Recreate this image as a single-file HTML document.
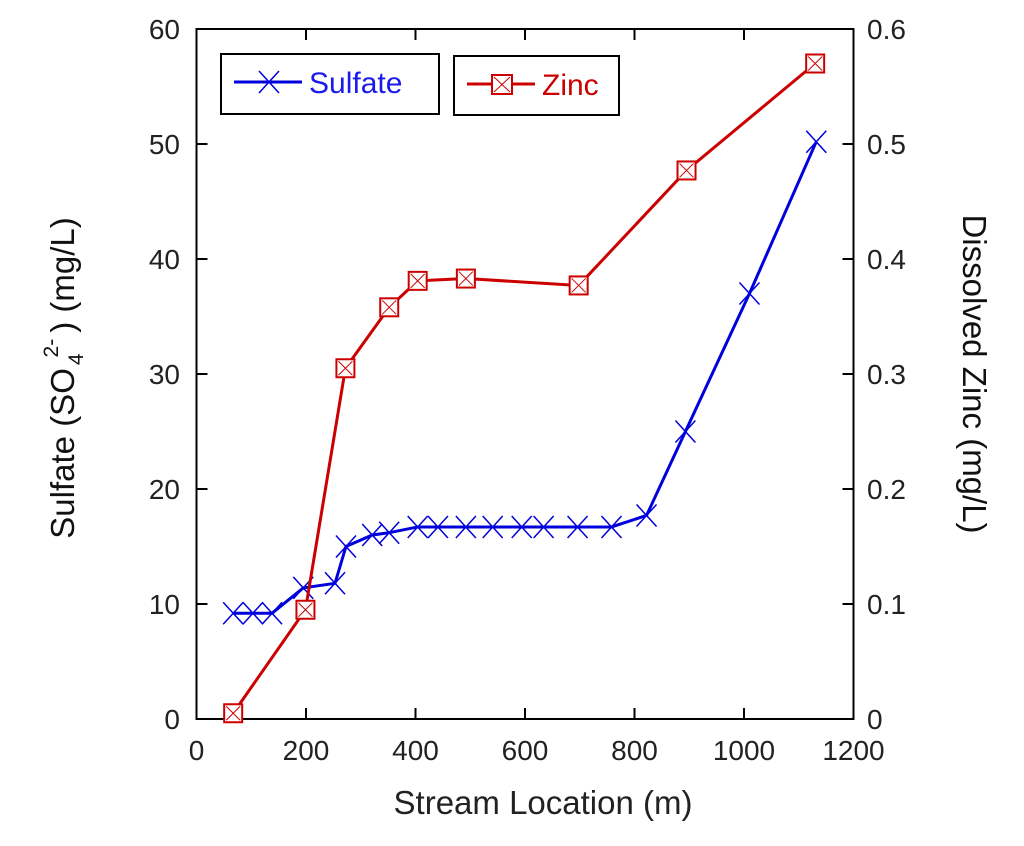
<!DOCTYPE html>
<html><head><meta charset="utf-8"><style>
body{margin:0;background:#fff;}
svg text{font-family:"Liberation Sans",Arial,sans-serif;}
</style></head><body>
<svg id="chart" width="1024" height="841" xmlns="http://www.w3.org/2000/svg">
<g id="axes"></g><g id="series"></g>
<g>
 <rect x="221" y="54" width="218" height="60" fill="#fff" stroke="#000" stroke-width="2"/>
 <line x1="234" y1="82" x2="302" y2="82" stroke="#0000dd" stroke-width="3"/>
 <path d="M259,71 L279,93 M259,93 L279,71" stroke="#0000dd" stroke-width="1.5"/>
 <text x="309" y="93" font-size="30" fill="#1a1aee">Sulfate</text>
 <rect x="454" y="56" width="165" height="59" fill="#fff" stroke="#000" stroke-width="2"/>
 <line x1="467" y1="84" x2="535" y2="84" stroke="#cc0000" stroke-width="3"/>
 <rect x="492" y="75" width="20" height="19" fill="#fff" stroke="#cc0000" stroke-width="2"/>
 <path d="M494,77 L510,92 M494,92 L510,77" stroke="#cc0000" stroke-width="1"/>
 <text x="542" y="95" font-size="30" fill="#cc0000">Zinc</text>
</g>
</svg>
<script>
const sulfateX=[67,103,138,195,253,273,321,352,404,441,492,541,594,634,696,758,822,893,1010,1132];
const sulfateY=[9.2,9.2,9.2,11.4,11.8,15.0,16.0,16.2,16.7,16.7,16.7,16.7,16.7,16.7,16.7,16.7,17.7,25.0,37.0,50.2];
const zincX=[67,199,272,352,404,492,698,895,1130];
const zincY=[0.005,0.095,0.305,0.358,0.381,0.383,0.377,0.477,0.57];
const xTicks=[0,200,400,600,800,1000,1200];
const yLeftTicks=[0,10,20,30,40,50,60];
const yRightTicks=["0","0.1","0.2","0.3","0.4","0.5","0.6"];
const L=196.5,R=853.5,T=29,B=719;
const xs=v=>L+(v/1200)*(R-L);
const yl=v=>B-(v/60)*(B-T);
const yr=v=>B-(v/0.6)*(B-T);
const NS="http://www.w3.org/2000/svg";
function mk(tag,attrs,parent){const e=document.createElementNS(NS,tag);for(const k in attrs)e.setAttribute(k,attrs[k]);parent.appendChild(e);return e;}
const ax=document.getElementById('axes'),se=document.getElementById('series');
let fr=mk('rect',{x:L,y:T,width:R-L,height:B-T,fill:'none',stroke:'#000','stroke-width':2},ax);


xTicks.forEach(v=>{const x=xs(v);
 mk('line',{x1:x,y1:B,x2:x,y2:B-11,stroke:'#000','stroke-width':2},ax);
 mk('line',{x1:x,y1:T,x2:x,y2:T+11,stroke:'#000','stroke-width':2},ax);
 const t=mk('text',{x:x,y:760,'font-size':28,'text-anchor':'middle',fill:'#222'},ax);t.textContent=v;
 
 });
yLeftTicks.forEach((v,i)=>{const y=yl(v);
 mk('line',{x1:L,y1:y,x2:L+11,y2:y,stroke:'#000','stroke-width':2},ax);
 mk('line',{x1:R,y1:y,x2:R-11,y2:y,stroke:'#000','stroke-width':2},ax);
 const t=mk('text',{x:180,y:y+10,'font-size':28,'text-anchor':'end',fill:'#222'},ax);t.textContent=v;
 
 
 const t2=mk('text',{x:867,y:y+10,'font-size':28,fill:'#222'},ax);t2.textContent=yRightTicks[i];
 
 });
let xt=mk('text',{x:543,y:814,'font-size':33,'text-anchor':'middle',fill:'#222'},ax);xt.textContent='Stream Location (m)';


let lt=mk('text',{transform:'translate(74,378) rotate(-90)','font-size':33,'text-anchor':'middle',fill:'#111'},ax);
lt.innerHTML='Sulfate (SO<tspan font-size="21" dy="9" dx="3">4</tspan><tspan font-size="21" dy="-25" dx="-4">2-</tspan><tspan dy="16" dx="6">) (mg/L)</tspan>';


let rt=mk('text',{transform:'translate(963,374) rotate(90)','font-size':33,'text-anchor':'middle',fill:'#111'},ax);rt.textContent='Dissolved Zinc (mg/L)';


let sl=mk('polyline',{points:sulfateX.map((x,i)=>xs(x)+','+yl(sulfateY[i])).join(' '),fill:'none',stroke:'#0000dd','stroke-width':3},se);


sulfateX.forEach((x,i)=>{const cx=xs(x),cy=yl(sulfateY[i]);
 const m=mk('path',{d:`M${cx-10},${cy-11} L${cx+10},${cy+11} M${cx-10},${cy+11} L${cx+10},${cy-11}`,stroke:'#0000dd','stroke-width':1.5},se);
 
 });
let zl=mk('polyline',{points:zincX.map((x,i)=>xs(x)+','+yr(zincY[i])).join(' '),fill:'none',stroke:'#cc0000','stroke-width':3},se);


zincX.forEach((x,i)=>{const cx=xs(x),cy=yr(zincY[i]);
 const g=mk('g',{},se);
 
 
 mk('rect',{x:cx-9,y:cy-9,width:18,height:18,fill:'#fff',stroke:'#cc0000','stroke-width':2},g);
 mk('path',{d:`M${cx-7},${cy-7} L${cx+7},${cy+7} M${cx-7},${cy+7} L${cx+7},${cy-7}`,stroke:'#cc0000','stroke-width':1},g);});
</script>
</body></html>
